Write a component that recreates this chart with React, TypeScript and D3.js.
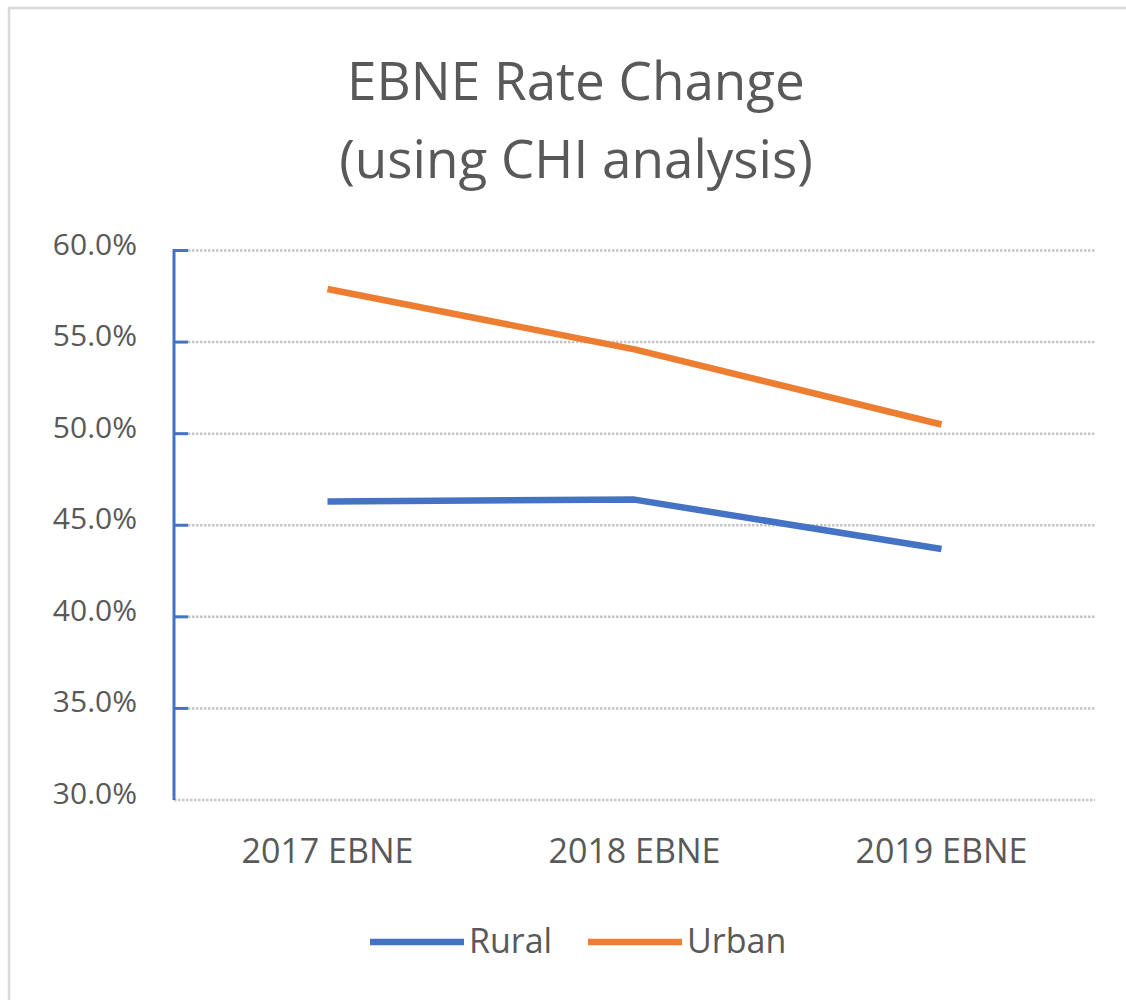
import React, { useRef, useEffect } from "react";
import * as d3 from "d3";

const categories = ["2017 EBNE", "2018 EBNE", "2019 EBNE"];
const rural = [46.3, 46.4, 43.7];
const urban = [57.9, 54.6, 50.5];
const yTicks = [30, 35, 40, 45, 50, 55, 60];
const seriesNames = ["Rural", "Urban"];
const seriesColors = ["#4472C4", "#ED7D31"];

const FONT = "'Open Sans', sans-serif";
const TEXT = "#595959";

const App = () => {
  const svgRef = useRef<SVGSVGElement>(null);

  useEffect(() => {
    const width = 1126;
    const height = 1000;
    const left = 174;
    const right = 1095;
    const top = 250.5;
    const bottom = 800;

    const svg = d3.select(svgRef.current).attr("width", width).attr("height", height);
    svg.selectAll("*").remove();

    svg.append("rect").attr("width", width).attr("height", height).attr("fill", "#fff");

    // chart area border (only top and left are visible in the crop)
    svg
      .append("path")
      .attr("d", `M9,${height} L9,8 L${width},8`)
      .attr("fill", "none")
      .attr("stroke", "#d9d9d9")
      .attr("stroke-width", 2.5);

    // title
    const title = svg
      .append("text")
      .attr("text-anchor", "middle")
      .attr("font-family", FONT)
      .attr("font-size", 53)
      .attr("fill", TEXT);
    title.append("tspan").attr("x", 576).attr("y", 100).text("EBNE Rate Change");
    title.append("tspan").attr("x", 576).attr("y", 178).text("(using CHI analysis)");

    const x = d3.scaleBand().domain(categories).range([left, right]);
    const y = d3.scaleLinear().domain([30, 60]).range([bottom, top]);
    const cx = (c: string) => (x(c) as number) + x.bandwidth() / 2;

    // gridlines
    svg
      .append("g")
      .selectAll("line")
      .data(yTicks)
      .enter()
      .append("line")
      .attr("x1", (d) => (d === 30 ? left : left + 14))
      .attr("x2", right)
      .attr("y1", (d) => y(d))
      .attr("y2", (d) => y(d))
      .attr("stroke", "#c4c4c4")
      .attr("stroke-width", 2.5)
      .attr("stroke-dasharray", "2.5,1.5");

    // y axis line + ticks
    svg
      .append("line")
      .attr("x1", left)
      .attr("x2", left)
      .attr("y1", top - 1.5)
      .attr("y2", bottom)
      .attr("stroke", "#4472C4")
      .attr("stroke-width", 3);

    svg
      .append("g")
      .selectAll("line")
      .data(yTicks.filter((d) => d !== 30))
      .enter()
      .append("line")
      .attr("x1", left)
      .attr("x2", left + 14)
      .attr("y1", (d) => y(d))
      .attr("y2", (d) => y(d))
      .attr("stroke", "#4472C4")
      .attr("stroke-width", 3);

    // y labels
    svg
      .append("g")
      .selectAll("text")
      .data(yTicks)
      .enter()
      .append("text")
      .attr("x", 137)
      .attr("y", (d) => y(d) + 4)
      .attr("text-anchor", "end")
      .attr("font-family", FONT)
      .attr("font-size", 30)
      .attr("fill", TEXT)
      .text((d) => d.toFixed(1) + "%");

    // x labels
    svg
      .append("g")
      .selectAll("text")
      .data(categories)
      .enter()
      .append("text")
      .attr("x", (d) => cx(d))
      .attr("y", 863)
      .attr("text-anchor", "middle")
      .attr("font-family", FONT)
      .attr("font-size", 34)
      .attr("fill", TEXT)
      .text((d) => d);

    // lines
    const line = d3
      .line<number>()
      .x((_, i) => cx(categories[i]))
      .y((d) => y(d));

    [rural, urban].forEach((values, i) => {
      svg
        .append("path")
        .attr("d", line(values))
        .attr("fill", "none")
        .attr("stroke", seriesColors[i])
        .attr("stroke-width", 6.5)
        .attr("stroke-linejoin", "round");
    });

    // legend
    const legendX = [370, 588];
    seriesNames.forEach((name, i) => {
      const g = svg.append("g").attr("transform", `translate(${legendX[i]}, 942)`);
      g.append("line")
        .attr("x1", 0)
        .attr("x2", 94)
        .attr("stroke", seriesColors[i])
        .attr("stroke-width", 6.5);
      g.append("text")
        .attr("x", 99)
        .attr("y", 11)
        .attr("font-family", FONT)
        .attr("font-size", 34)
        .attr("fill", TEXT)
        .text(name);
    });
  }, []);

  return (
    <div style={{ position: "absolute", left: 0, top: 0 }}>
      <svg ref={svgRef} style={{ display: "block" }}></svg>
    </div>
  );
};

export default App;
